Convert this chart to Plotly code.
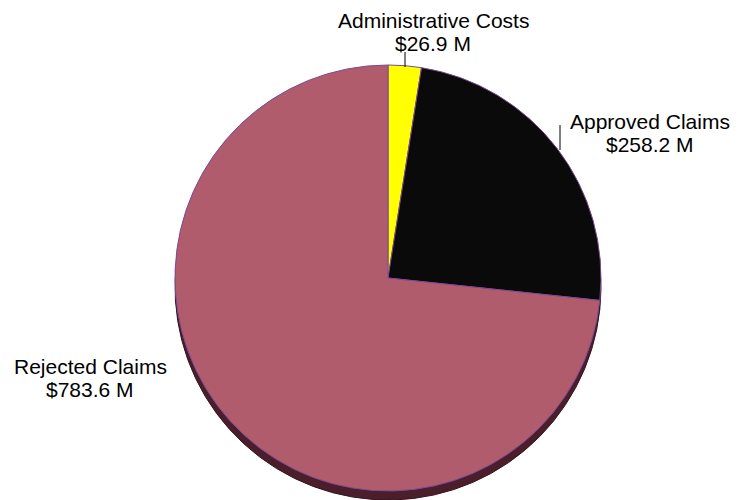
import plotly.graph_objects as go

# ---- data ----
categories = ["Administrative Costs", "Approved Claims", "Rejected Claims"]
values_musd = [26.9, 258.2, 783.6]
top_colors = ["#FFFF00", "#0A0A0A", "#B05C6C"]
side_colors = ["#7A7A00", "#050505", "#4A1F2B"]

# ---- layout constants (pixels) ----
W, H = 746, 500
CX, CY, R, DEPTH = 388, 278, 213, 9

def dom(cx, cy, r):
    return dict(x=[(cx - r) / W, (cx + r) / W],
                y=[max(0.0, (H - cy - r) / H), (H - cy + r) / H])

fig = go.Figure()
# side (depth) of the 3-D pie
fig.add_trace(go.Pie(
    labels=categories, values=values_musd, sort=False, direction="clockwise",
    rotation=0, textinfo="none", hoverinfo="skip", showlegend=False,
    marker=dict(colors=side_colors, line=dict(color="#3a1420", width=1)),
    domain=dom(CX, CY + DEPTH, R),
))
# top surface
fig.add_trace(go.Pie(
    labels=categories, values=values_musd, sort=False, direction="clockwise",
    rotation=0, textinfo="none", showlegend=False,
    hovertemplate="%{label}<br>$%{value:.1f} M<extra></extra>",
    marker=dict(colors=top_colors, line=dict(color="#7B4B94", width=1)),
    domain=dom(CX, CY, R),
))

# label placement (pixel positions of the two text lines, plus optional leader)
label_pos = {
    "Administrative Costs": dict(x=433, y1=20, y2=44, leader=(405, 52, 67)),
    "Approved Claims": dict(x=650, y1=121, y2=144, leader=(560, 125, 150)),
    "Rejected Claims": dict(x=90, y1=366, y2=389, leader=None),
}
font = dict(family="Liberation Sans, Arial, sans-serif", size=21, color="#000000")
for name, v in zip(categories, values_musd):
    p = label_pos[name]
    for txt, yy in ((name, p["y1"]), (f"${v:.1f} M", p["y2"])):
        fig.add_annotation(x=p["x"] / W, y=1 - yy / H, xref="paper", yref="paper",
                           text=txt, showarrow=False, font=font,
                           xanchor="center", yanchor="middle")
    if p["leader"]:
        lx, ly0, ly1 = p["leader"]
        fig.add_shape(type="line", xref="paper", yref="paper",
                      x0=lx / W, x1=lx / W, y0=1 - ly0 / H, y1=1 - ly1 / H,
                      line=dict(color="#000000", width=1))

fig.update_layout(width=W, height=H, autosize=False,
                  margin=dict(l=0, r=0, t=0, b=0),
                  paper_bgcolor="#FFFFFF", plot_bgcolor="#FFFFFF")
fig.write_html("out.html")
